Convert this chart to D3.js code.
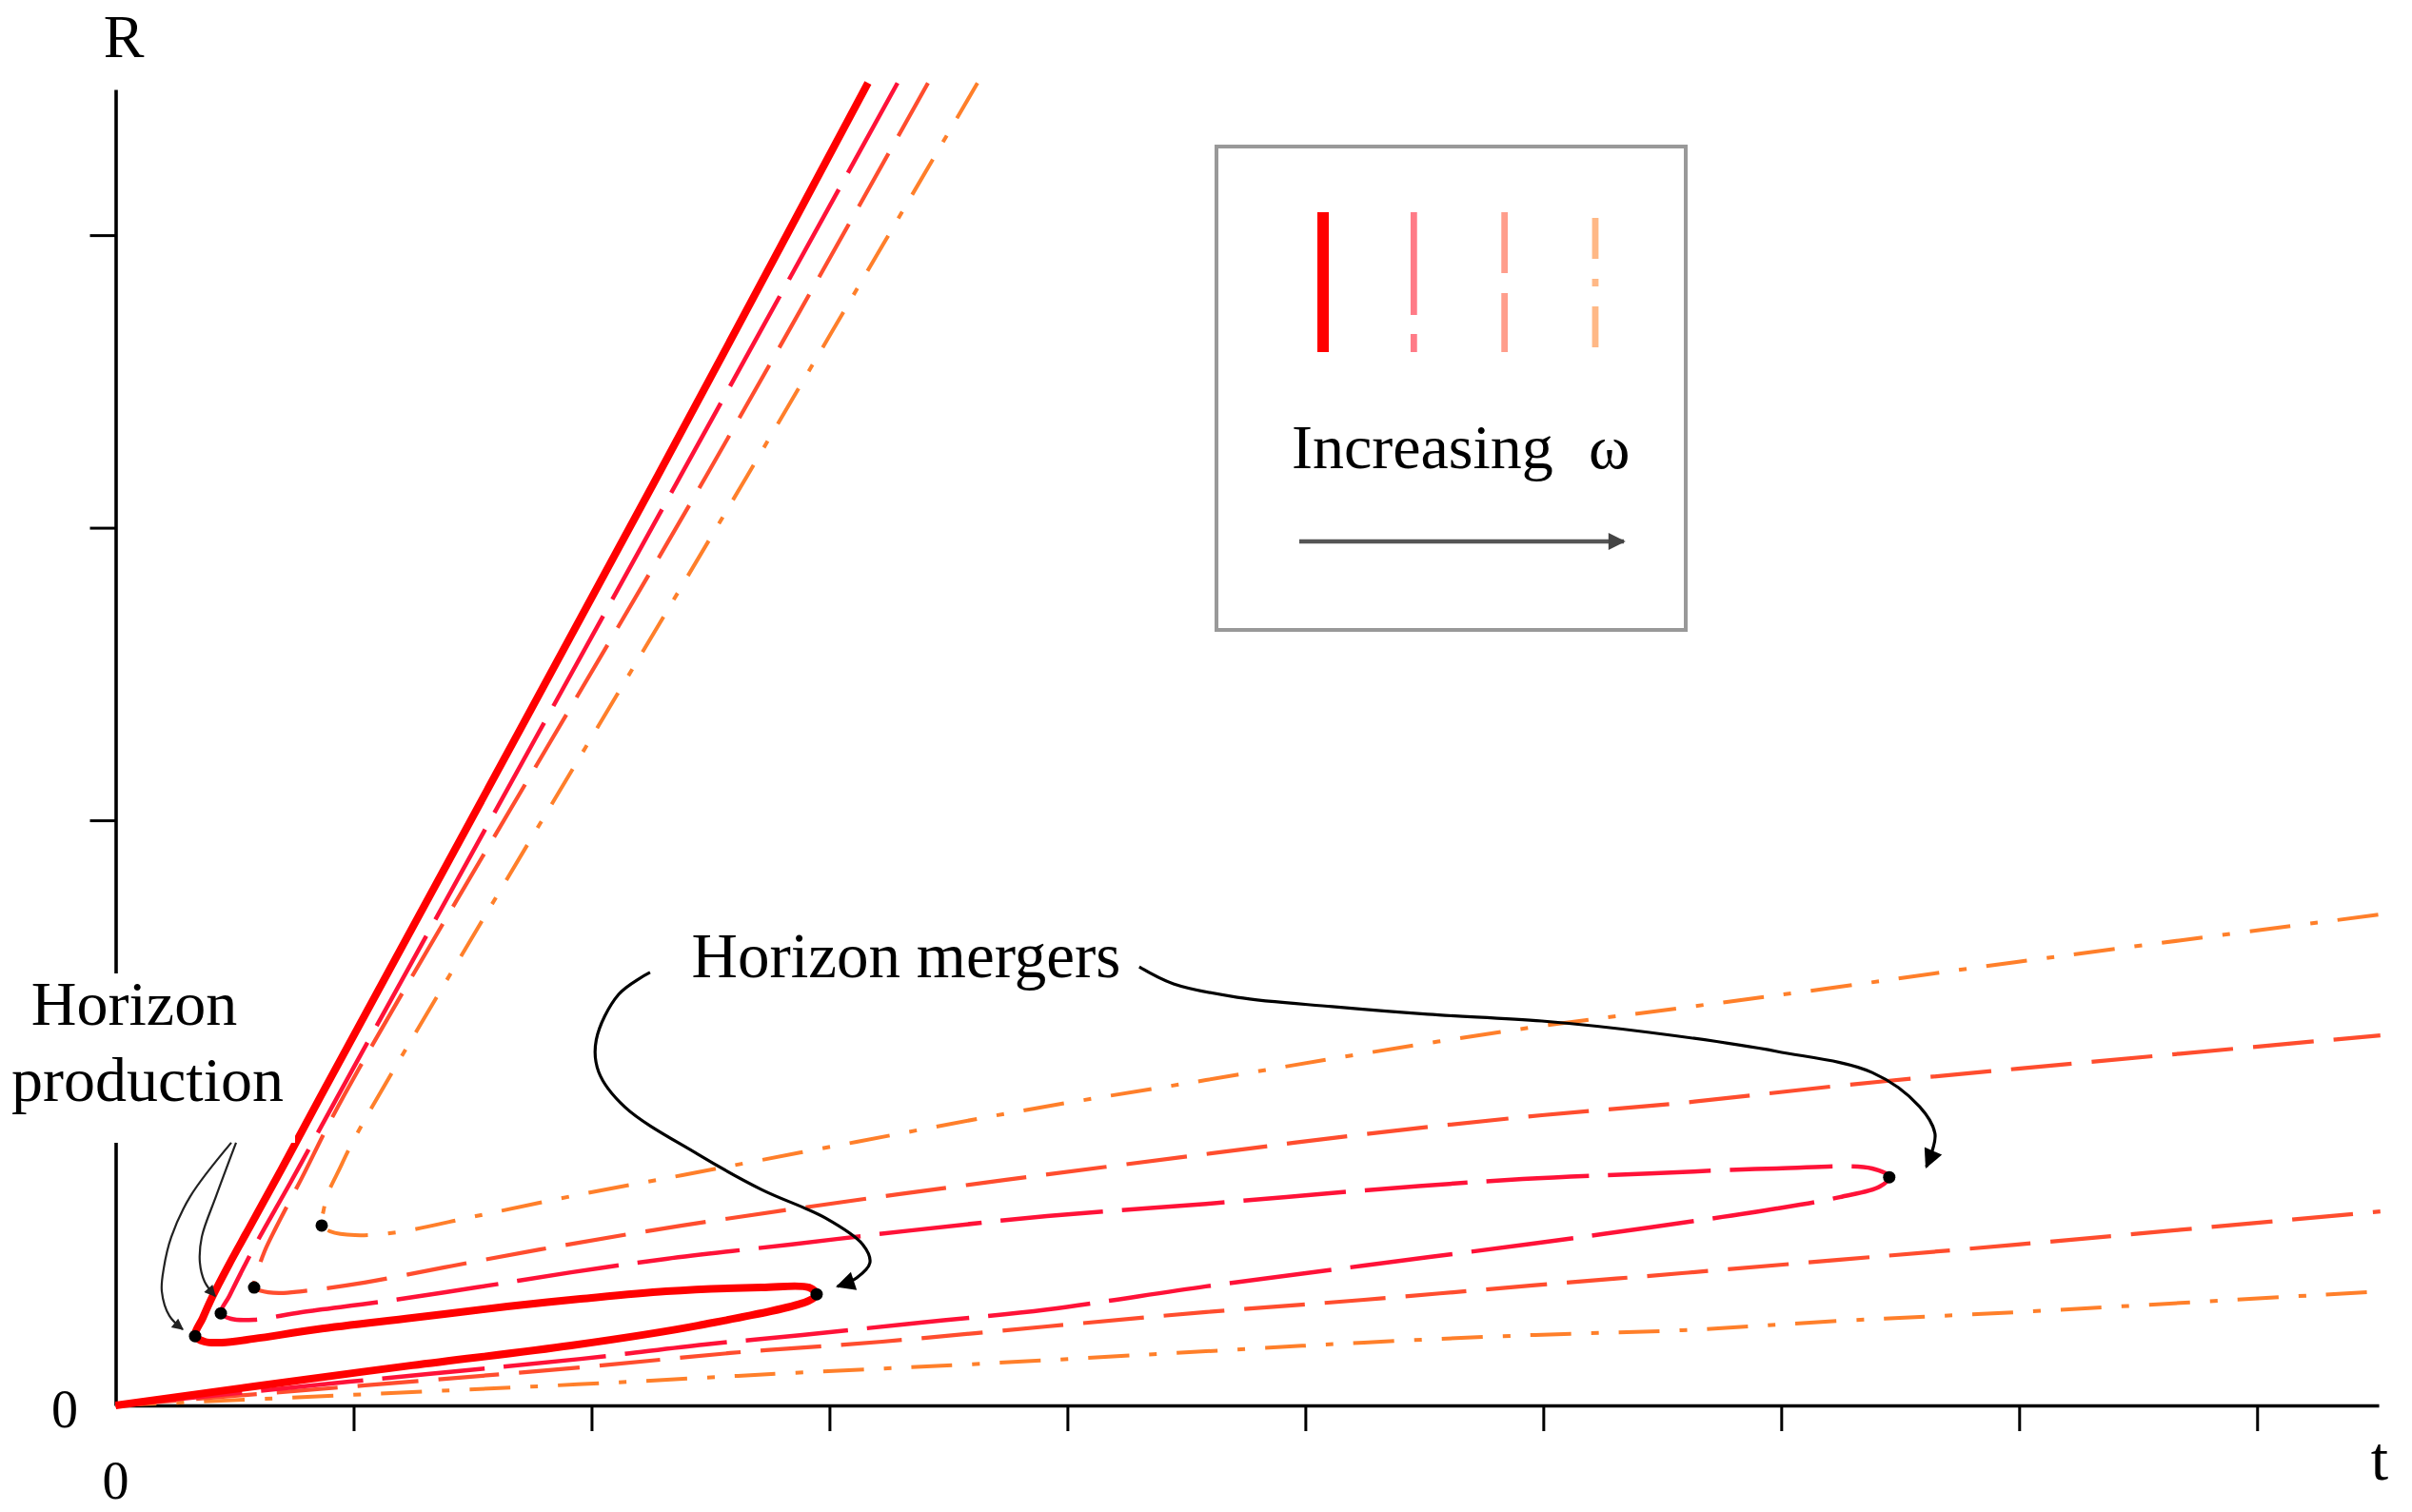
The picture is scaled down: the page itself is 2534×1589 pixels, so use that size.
<!DOCTYPE html>
<html>
<head>
<meta charset="utf-8">
<script src="https://cdn.jsdelivr.net/npm/d3@7"></script>
<style>
  body { margin: 0; background: #fff; }
  svg { display: block; font-family: "Liberation Serif", "Times New Roman", serif; }
</style>
</head>
<body>
<div id="chart"></div>
<script>
var chart = {
  width: 2534,
  height: 1589,
  left: 121.5,
  right: 2499,
  top: 94,
  bottom: 1477,
}

/* Axis ticks (t and R units) */
var xTicks = [1, 2, 3, 4, 5, 6, 7, 8, 9];
var yTicks = [1, 2, 3, 4];
var xMax = 9.511;
var yMax = 4.498;

/* Horizon curves R(t), one per omega, [t, R] */
var curveSolid = [
  [3.162, 4.520], [2.278, 3.177], [0.866, 1.063], [0.694, 0.803], [0.562, 0.608],
  [0.474, 0.478], [0.406, 0.371], [0.366, 0.299], [0.334, 0.237], [0.374, 0.218],
  [0.446, 0.215], [0.582, 0.228], [0.846, 0.260], [1.246, 0.299], [1.646, 0.338],
  [1.954, 0.364], [2.314, 0.390], [2.714, 0.403], [2.914, 0.403], [2.946, 0.380],
  [2.914, 0.358], [2.446, 0.273], [1.914, 0.205], [1.246, 0.137], [0.582, 0.065],
  [0, 0]
];
var curveLongDash = [
  [3.286, 4.520], [2.374, 3.177], [0.938, 1.063], [0.734, 0.761], [0.594, 0.559],
  [0.522, 0.446], [0.478, 0.374], [0.442, 0.315], [0.486, 0.296], [0.582, 0.293],
  [0.782, 0.319], [1.114, 0.354], [1.514, 0.403], [1.914, 0.455], [2.314, 0.501],
  [2.834, 0.550], [3.342, 0.598], [3.914, 0.647], [4.582, 0.689], [5.246, 0.735],
  [5.914, 0.774], [6.446, 0.793], [6.982, 0.810], [7.382, 0.810], [7.454, 0.780],
  [7.414, 0.748], [7.246, 0.712], [6.982, 0.673], [6.446, 0.608], [5.954, 0.553],
  [5.246, 0.478], [4.582, 0.407], [3.914, 0.328], [3.382, 0.283], [2.886, 0.241],
  [2.474, 0.208], [1.954, 0.159], [0.982, 0.081], [0, 0]
];
var curveDashUpper = [
  [3.414, 4.520], [2.482, 3.177], [0.962, 1.063], [0.782, 0.777], [0.674, 0.608],
  [0.626, 0.527], [0.598, 0.462], [0.582, 0.403], [0.606, 0.393], [0.686, 0.384],
  [0.782, 0.390], [1.046, 0.420], [1.382, 0.472], [1.782, 0.533], [2.382, 0.615],
  [3.062, 0.696], [3.742, 0.771], [4.582, 0.859], [5.246, 0.927], [5.994, 0.992],
  [6.582, 1.034], [7.246, 1.093], [7.994, 1.151], [9.518, 1.265]
];
var curveDashLower = [
  [0, 0], [1.954, 0.130], [2.582, 0.179], [3.222, 0.218], [3.914, 0.270],
  [4.582, 0.319], [5.246, 0.361], [5.954, 0.410], [6.582, 0.452], [7.246, 0.498],
  [7.994, 0.550], [9.518, 0.663]
];
var curveDotDashUpper = [
  [3.622, 4.520], [2.654, 3.177], [1.062, 0.998], [0.982, 0.878], [0.942, 0.810],
  [0.894, 0.728], [0.874, 0.667], [0.866, 0.615], [0.902, 0.595], [1.006, 0.582],
  [1.182, 0.592], [1.514, 0.647], [1.914, 0.715], [2.382, 0.787], [3.114, 0.901],
  [3.862, 1.015], [4.582, 1.112], [5.246, 1.203], [5.942, 1.291], [6.582, 1.359],
  [7.246, 1.431], [7.982, 1.515], [9.518, 1.678]
];
var curveDotDashLower = [
  [0, 0], [1.942, 0.072], [2.846, 0.111], [3.646, 0.143], [4.582, 0.185],
  [5.246, 0.215], [5.966, 0.241], [6.582, 0.257], [7.246, 0.289], [7.994, 0.319],
  [9.518, 0.390]
];

/* Marked events */
var productionPoints = [[0.334, 0.237], [0.442, 0.315], [0.582, 0.403], [0.866, 0.615]];
var mergerPoints = [[2.946, 0.380], [7.454, 0.780]];

/* Annotation arrows, [t, R] */
var mergerArrowLeft = [
  [2.246, 1.480], [2.114, 1.405], [2.020, 1.250], [2.030, 1.140], [2.140, 1.020],
  [2.446, 0.859], [2.714, 0.738], [2.982, 0.641], [3.140, 0.550], [3.170, 0.488],
  [3.114, 0.436], [3.034, 0.407]
];
var mergerArrowRight = [
  [4.302, 1.499], [4.446, 1.441], [4.714, 1.395], [5.114, 1.363], [5.514, 1.337],
  [5.994, 1.314], [6.446, 1.275], [6.982, 1.210], [7.382, 1.138], [7.582, 1.021],
  [7.646, 0.930], [7.634, 0.868], [7.610, 0.816]
];
var productionArrowOuter = [
  [0.486, 0.898], [0.314, 0.715], [0.234, 0.576], [0.202, 0.468], [0.194, 0.390],
  [0.226, 0.306], [0.282, 0.260]
];
var productionArrowInner = [
  [0.506, 0.898], [0.422, 0.715], [0.362, 0.576], [0.354, 0.488], [0.374, 0.423],
  [0.418, 0.374]
];

var seriesNames = ["solid", "longdash", "dash", "dotdash"];

var styles = {
  solid:    { color: "#ff0000", legend: "#ff0000", width: 8,   dash: null },
  longdash: { color: "#ff1238", legend: "#ff7b87", width: 4.5, dash: "108,20" },
  dash:     { color: "#ff4d2e", legend: "#ff9e8c", width: 4.2, dash: "64,21" },
  dotdash:  { color: "#ff7f2a", legend: "#ffb886", width: 4,   dash: "43,21,8,21" },
}

var svg = d3.select("#chart")
  .append("svg")
  .attr("width", chart.width)
  .attr("height", chart.height);

var defs = svg.append("defs");
function addMarker(id, w, h, color) {
  defs.append("marker")
    .attr("id", id)
    .attr("viewBox", "0 0 10 10")
    .attr("refX", 9)
    .attr("refY", 5)
    .attr("markerUnits", "userSpaceOnUse")
    .attr("markerWidth", w)
    .attr("markerHeight", h)
    .attr("orient", "auto")
    .append("path")
    .attr("d", "M0,0 L10,5 L0,10 Z")
    .attr("fill", color);
}
addMarker("headBig", 32, 20, "#000");
addMarker("headSmall", 20, 12, "#222");
addMarker("headLegend", 30, 18, "#444");

var x = d3.scaleLinear().domain([0, xMax]).range([chart.left, chart.right]);
var y = d3.scaleLinear().domain([0, yMax]).range([chart.bottom, chart.top]);

/* Axes */
svg.append("g")
  .attr("transform", "translate(0," + chart.bottom + ")")
  .call(d3.axisBottom(x).tickValues(xTicks).tickSize(27).tickSizeOuter(0).tickFormat(""))
  .call((g) => g.select(".domain").attr("stroke-width", 3.6))
  .call((g) => g.selectAll(".tick line").attr("stroke-width", 3));

svg.append("g")
  .attr("transform", "translate(" + chart.left + ",0)")
  .call(d3.axisLeft(y).tickValues(yTicks).tickSize(27).tickSizeOuter(0).tickFormat(""))
  .call((g) => g.select(".domain").attr("stroke-width", 3.6))
  .call((g) => g.selectAll(".tick line").attr("stroke-width", 3));

/* Curves */
var line = d3.line()
  .x((d) => x(d[0]))
  .y((d) => y(d[1]))
  .curve(d3.curveCatmullRom.alpha(0.5));

var curves = [
  { series: "solid", pts: curveSolid },
  { series: "longdash", pts: curveLongDash },
  { series: "dash", pts: curveDashUpper },
  { series: "dash", pts: curveDashLower },
  { series: "dotdash", pts: curveDotDashUpper },
  { series: "dotdash", pts: curveDotDashLower },
];

svg.append("g")
  .selectAll("path")
  .data(curves.slice().reverse())
  .enter()
  .append("path")
  .attr("d", (d) => line(d.pts))
  .style("fill", "none")
  .style("stroke", (d) => styles[d.series].color)
  .style("stroke-width", (d) => styles[d.series].width)
  .style("stroke-dasharray", (d) => styles[d.series].dash)
  .style("stroke-linejoin", "round");

/* Production and merger points */
svg.append("g")
  .selectAll("circle")
  .data(productionPoints.concat(mergerPoints))
  .enter()
  .append("circle")
  .attr("cx", (d) => x(d[0]))
  .attr("cy", (d) => y(d[1]))
  .attr("r", 6.5)
  .style("fill", "#000");

/* Axis labels */
svg.append("text").attr("x", 130).attr("y", 60).attr("text-anchor", "middle")
  .style("font-size", "64px").text("R");
svg.append("text").attr("x", 2500).attr("y", 1555).attr("text-anchor", "middle")
  .style("font-size", "66px").text("t");
svg.append("text").attr("x", 68).attr("y", 1500).attr("text-anchor", "middle")
  .style("font-size", "56px").text("0");
svg.append("text").attr("x", chart.left).attr("y", 1575).attr("text-anchor", "middle")
  .style("font-size", "56px").text("0");

/* Horizon production label (covers the axis) */
svg.append("rect")
  .attr("x", 0).attr("y", 1023).attr("width", 310).attr("height", 178)
  .style("fill", "#fff");
svg.append("text").attr("x", 141).attr("y", 1077).attr("text-anchor", "middle")
  .style("font-size", "66px").text("Horizon");
svg.append("text").attr("x", 155).attr("y", 1157).attr("text-anchor", "middle")
  .style("font-size", "66px").text("production");

svg.append("text").attr("x", 952).attr("y", 1027).attr("text-anchor", "middle")
  .style("font-size", "67px").text("Horizon mergers");

/* Annotation arrows */
var arrowLine = d3.line()
  .x((d) => x(d[0]))
  .y((d) => y(d[1]))
  .curve(d3.curveCatmullRom.alpha(0.5));

svg.append("g")
  .selectAll("path")
  .data([mergerArrowLeft, mergerArrowRight])
  .enter()
  .append("path")
  .attr("d", (d) => arrowLine(d))
  .style("fill", "none")
  .style("stroke", "#000")
  .style("stroke-width", 3.2)
  .attr("marker-end", "url(#headBig)");

svg.append("g")
  .selectAll("path")
  .data([productionArrowOuter, productionArrowInner])
  .enter()
  .append("path")
  .attr("d", (d) => arrowLine(d))
  .style("fill", "none")
  .style("stroke", "#222")
  .style("stroke-width", 2.2)
  .attr("marker-end", "url(#headSmall)");

/* Legend */
var legend = svg.append("g");
legend.append("rect")
  .attr("x", 1278).attr("y", 154).attr("width", 493).attr("height", 508)
  .style("fill", "#fff")
  .style("stroke", "#999")
  .style("stroke-width", 4);

var lx = d3.scalePoint().domain(seriesNames).range([1390, 1676]);
legend.selectAll("line")
  .data(seriesNames)
  .enter()
  .append("line")
  .attr("x1", (d) => lx(d))
  .attr("x2", (d) => lx(d))
  .attr("y1", (d) => d === "dotdash" ? 229 : 223)
  .attr("y2", 370)
  .style("stroke", (d) => styles[d].legend)
  .style("stroke-width", (d) => d === "solid" ? 12 : 6.8)
  .style("stroke-dasharray", (d) => styles[d].dash);

legend.append("text").attr("x", 1357).attr("y", 492)
  .style("font-size", "66px").text("Increasing");
legend.append("text").attr("x", 1669).attr("y", 492)
  .style("font-size", "66px").text("ω");
legend.append("line")
  .attr("x1", 1365).attr("y1", 569).attr("x2", 1706).attr("y2", 569)
  .style("stroke", "#555")
  .style("stroke-width", 4.5)
  .attr("marker-end", "url(#headLegend)");
</script>
</body>
</html>
